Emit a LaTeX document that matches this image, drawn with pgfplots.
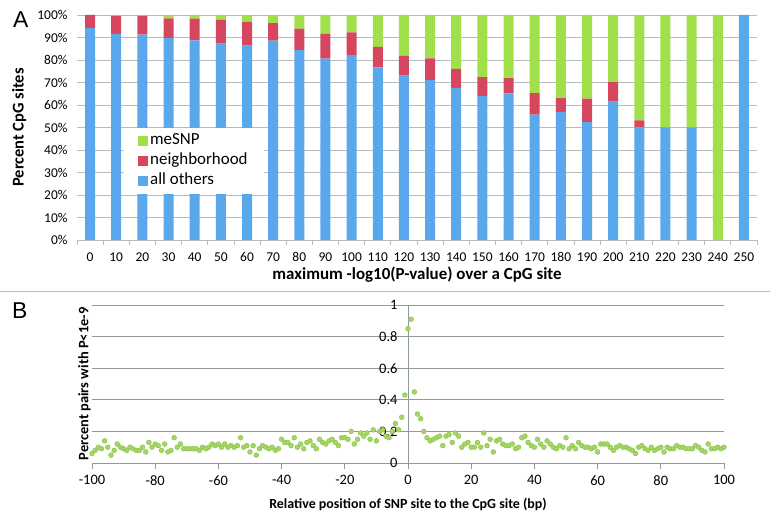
\documentclass[border=0pt]{standalone}
\usepackage{fontspec}
\setmainfont{Carlito}
\newfontfamily\arialfont{Liberation Sans}
\usepackage{pgfplots}
\usepackage{pgfplotstable}
\pgfplotsset{compat=1.18}
\definecolor{cblue}{HTML}{5AA8EC}
\definecolor{cred}{HTML}{D7465F}
\definecolor{cgreen}{HTML}{A2E04B}
\definecolor{gridA}{HTML}{B4BCC0}
\definecolor{gridB}{HTML}{8F9B9E}
\definecolor{ptgreen}{HTML}{A4D764}
\definecolor{ptedge}{HTML}{8EC24C}

\pgfplotstableread{
x blue red green
0 94.2 5.8 0
1 91.6 8.0 0.4
2 91.3 8.3 0.4
3 89.8 8.7 1.5
4 88.7 9.7 1.6
5 87.3 10.5 2.2
6 86.4 10.5 3.1
7 88.6 7.8 3.6
8 84.4 9.5 6.1
9 80.6 11.0 8.4
10 82.2 10.1 7.7
11 76.7 9.1 14.2
12 73.0 8.8 18.2
13 71.1 9.6 19.3
14 67.6 8.4 24.0
15 64.0 8.4 27.6
16 65.2 6.7 28.1
17 55.7 9.6 34.7
18 56.9 6.2 36.9
19 52.4 10.4 37.2
20 61.5 8.7 29.8
21 50.1 3.1 46.8
22 50.0 0 50.0
23 50.0 0 50.0
24 0 0 100
25 100 0 0
}\barsA

\pgfplotstableread{
x y
-100 0.06
-99 0.08
-98 0.10
-97 0.09
-96 0.14
-95 0.10
-94 0.05
-93 0.08
-92 0.12
-91 0.10
-90 0.09
-89 0.08
-88 0.10
-87 0.09
-86 0.08
-85 0.08
-84 0.10
-83 0.07
-82 0.13
-81 0.10
-80 0.12
-79 0.11
-78 0.08
-77 0.12
-76 0.07
-75 0.08
-74 0.16
-73 0.10
-72 0.12
-71 0.09
-70 0.09
-69 0.09
-68 0.09
-67 0.09
-66 0.08
-65 0.10
-64 0.09
-63 0.10
-62 0.12
-61 0.11
-60 0.12
-59 0.10
-58 0.12
-57 0.10
-56 0.11
-55 0.10
-54 0.11
-53 0.16
-52 0.10
-51 0.11
-50 0.07
-49 0.11
-48 0.05
-47 0.09
-46 0.11
-45 0.10
-44 0.09
-43 0.10
-42 0.08
-41 0.09
-40 0.15
-39 0.13
-38 0.13
-37 0.11
-36 0.16
-35 0.10
-34 0.12
-33 0.09
-32 0.13
-31 0.14
-30 0.11
-29 0.09
-28 0.15
-27 0.13
-26 0.12
-25 0.14
-24 0.15
-23 0.13
-22 0.11
-21 0.16
-20 0.16
-19 0.15
-18 0.20
-17 0.12
-16 0.15
-15 0.19
-14 0.17
-13 0.19
-12 0.15
-11 0.21
-10 0.14
-9 0.20
-8 0.21
-7 0.17
-6 0.16
-5 0.20
-4 0.25
-3 0.21
-2 0.29
-1 0.43
0 0.85
1 0.91
2 0.45
3 0.31
4 0.28
5 0.20
6 0.16
7 0.14
8 0.15
9 0.16
10 0.17
11 0.11
12 0.17
13 0.18
14 0.13
15 0.19
16 0.17
17 0.10
18 0.12
19 0.13
20 0.10
21 0.10
22 0.13
23 0.10
24 0.19
25 0.11
26 0.15
27 0.07
28 0.14
29 0.15
30 0.12
31 0.11
32 0.11
33 0.12
34 0.09
35 0.10
36 0.16
37 0.17
38 0.13
39 0.11
40 0.10
41 0.15
42 0.12
43 0.10
44 0.14
45 0.12
46 0.10
47 0.09
48 0.11
49 0.10
50 0.16
51 0.09
52 0.11
53 0.09
54 0.13
55 0.11
56 0.10
57 0.10
58 0.09
59 0.10
60 0.07
61 0.12
62 0.12
63 0.12
64 0.10
65 0.08
66 0.10
67 0.11
68 0.10
69 0.10
70 0.09
71 0.08
72 0.06
73 0.10
74 0.11
75 0.09
76 0.08
77 0.10
78 0.08
79 0.09
80 0.10
81 0.07
82 0.10
83 0.09
84 0.09
85 0.11
86 0.10
87 0.10
88 0.09
89 0.09
90 0.09
91 0.11
92 0.10
93 0.08
94 0.07
95 0.12
96 0.09
97 0.09
98 0.10
99 0.09
100 0.10
}\ptsB

\begin{document}
\begin{tikzpicture}
\path[use as bounding box] (0bp,0bp) rectangle (770bp,524bp);
\draw[gridA, line width=0.8bp] (0bp,233bp) -- (770bp,233bp);
\node[anchor=north west, inner sep=0pt, font=\arialfont\fontsize{23}{23}\selectfont] at (13bp,512bp) {A};
\node[anchor=north west, inner sep=0pt, font=\arialfont\fontsize{23}{23}\selectfont] at (12bp,221bp) {B};

% Panel A
\begin{axis}[
  at={(77bp,284bp)}, anchor=south west,
  scale only axis, width=680bp, height=225bp,
  ybar stacked, bar width=10bp,
  xmin=-0.5, xmax=25.5, ymin=0, ymax=100,
  axis line style={draw=none},
  xtick={0,...,25},
  xticklabels={0,10,20,30,40,50,60,70,80,90,100,110,120,130,140,150,160,170,180,190,200,210,220,230,240,250},
  minor xtick={-0.5,0.5,...,25.5},
  major tick length=0pt,
  minor tick length=5bp,
  xtick align=outside,
  tick pos=left,
  minor x tick style={gridA, line width=0.8bp},
  ytick={0,10,...,100},
  yticklabel={\pgfmathprintnumber{\tick}\%},
  /pgf/number format/assume math mode=true,
  ymajorgrids, grid style={gridA, line width=0.8bp},
  tick label style={font=\fontsize{13.5}{13.5}\selectfont},
  xticklabel style={yshift=-9bp},
  yticklabel style={xshift=-6bp},
  xlabel={maximum -log10(P-value) over a CpG site},
  ylabel={Percent CpG sites},
  every axis x label/.style={at={(axis description cs:0.5,-0.156)}, anchor=center, font=\bfseries\fontsize{17}{17}\selectfont},
  every axis y label/.style={at={(axis description cs:-0.085,0.5)}, rotate=90, anchor=center, font=\bfseries\fontsize{16.5}{16.5}\selectfont},
  clip=false,
  legend style={at={(axis cs:1.297,50)}, anchor=north west, draw=none, fill=white,
    inner xsep=14bp, inner ysep=3bp,
    font=\fontsize{17}{20}\selectfont, row sep=0pt,
    nodes={text height=12bp, text depth=3.5bp, inner ysep=2.25bp}},
  legend cell align=left,
  reverse legend,
  legend image code/.code={\fill[#1] (0bp,-5bp) rectangle (10bp,5bp);},
]
\addplot[fill=cblue, draw=none] table[x=x, y=blue] {\barsA};
\addplot[fill=cred, draw=none] table[x=x, y=red] {\barsA};
\addplot[fill=cgreen, draw=none] table[x=x, y=green] {\barsA};
\draw[gridA, line width=0.8bp] (axis cs:-0.5,0) -- (axis cs:25.5,0);
\legend{all others, neighborhood, meSNP}
\end{axis}

% Panel B
\begin{axis}[
  at={(92bp,61bp)}, anchor=south west,
  scale only axis, width=632bp, height=158bp,
  xmin=-100, xmax=100, ymin=0, ymax=1,
  axis lines=middle,
  axis line style={-, gridB, line width=0.8bp},
  hide obscured x ticks=false, hide obscured y ticks=false,
  xtick={-100,-80,...,100},
  ytick={0,0.2,...,1},
  ymajorgrids, grid style={gridB, line width=0.8bp},
  major tick length=6bp,
  xtick align=outside,
  x tick style={gridB, line width=0.8bp},
  y tick style={draw=none},
  /pgf/number format/assume math mode=true,
  tick label style={font=\fontsize{14.5}{14.5}\selectfont},
  xticklabel style={yshift=-3bp},
  yticklabel style={xshift=-4bp},
  yticklabel={\pgfmathprintnumber{\tick}},
  xticklabel={\pgfmathprintnumber{\tick}},
  xlabel={Relative position of SNP site to the CpG site (bp)},
  ylabel={Percent pairs with P{<}1e-9},
  every axis x label/.style={at={(axis description cs:0.5,-0.265)}, anchor=center, font=\bfseries\fontsize{14}{14}\selectfont},
  every axis y label/.style={at={(axis description cs:-0.012,0.5)}, rotate=90, anchor=center, font=\bfseries\fontsize{14.5}{14.5}\selectfont},
  clip=false,
]
\addplot[only marks, mark=*, mark size=2.4bp, mark options={fill=ptgreen, draw=ptedge, line width=0.5bp}] table[x=x, y=y] {\ptsB};
\end{axis}
\end{tikzpicture}
\end{document}
